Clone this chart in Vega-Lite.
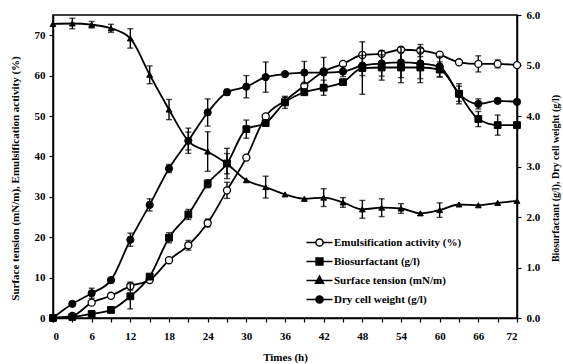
{
  "$schema": "https://vega.github.io/schema/vega-lite/v6.json",
  "autosize": {"type": "none"},
  "padding": {"left": 53, "top": 15, "right": 46, "bottom": 46},
  "width": 464,
  "height": 303,
  "background": "white",
  "config": {
    "view": {"stroke": "black", "strokeWidth": 1.5},
    "axis": {
      "domainColor": "black", "domainWidth": 1.5, "tickColor": "black", "tickWidth": 1.2, "tickSize": 4,
      "labelFont": "Liberation Serif", "labelFontWeight": "bold", "labelFontSize": 11, "labelColor": "black",
      "titleFont": "Liberation Serif", "titleFontWeight": "bold", "titleFontSize": 11, "titleColor": "black",
      "grid": false
    },
    "legend": {
      "orient": "none", "legendX": 261, "legendY": 222, "padding": 0, "title": null,
      "symbolSize": 64, "labelOffset": 9, "rowPadding": 5,
      "labelFont": "Liberation Serif", "labelFontWeight": "bold", "labelFontSize": 11, "labelColor": "black",
      "symbolStrokeWidth": 1.5, "symbolStrokeColor": "black"
    }
  },
  "data": {
    "values": [
      {"series": "Surface tension (mN/m)", "t": 0, "value": 72.8, "err": 0},
      {"series": "Surface tension (mN/m)", "t": 3, "value": 72.9, "err": 1.3},
      {"series": "Surface tension (mN/m)", "t": 6, "value": 72.6, "err": 0.8},
      {"series": "Surface tension (mN/m)", "t": 9, "value": 71.7, "err": 1.0},
      {"series": "Surface tension (mN/m)", "t": 12, "value": 69.2, "err": 2.4},
      {"series": "Surface tension (mN/m)", "t": 15, "value": 60.2, "err": 2.2},
      {"series": "Surface tension (mN/m)", "t": 18, "value": 51.6, "err": 2.5},
      {"series": "Surface tension (mN/m)", "t": 21, "value": 43.8, "err": 2.2},
      {"series": "Surface tension (mN/m)", "t": 24, "value": 41.2, "err": 4.9},
      {"series": "Surface tension (mN/m)", "t": 27, "value": 38.2, "err": 2.5},
      {"series": "Surface tension (mN/m)", "t": 30, "value": 34.1, "err": 0},
      {"series": "Surface tension (mN/m)", "t": 33, "value": 32.4, "err": 2.7},
      {"series": "Surface tension (mN/m)", "t": 36, "value": 30.6, "err": 0},
      {"series": "Surface tension (mN/m)", "t": 39, "value": 29.5, "err": 0},
      {"series": "Surface tension (mN/m)", "t": 42, "value": 29.8, "err": 2.2},
      {"series": "Surface tension (mN/m)", "t": 45, "value": 28.6, "err": 1.2},
      {"series": "Surface tension (mN/m)", "t": 48, "value": 26.9, "err": 2.2},
      {"series": "Surface tension (mN/m)", "t": 51, "value": 27.3, "err": 2.2},
      {"series": "Surface tension (mN/m)", "t": 54, "value": 27.1, "err": 1.2},
      {"series": "Surface tension (mN/m)", "t": 57, "value": 25.9, "err": 0},
      {"series": "Surface tension (mN/m)", "t": 60, "value": 26.7, "err": 1.8},
      {"series": "Surface tension (mN/m)", "t": 63, "value": 28.1, "err": 0},
      {"series": "Surface tension (mN/m)", "t": 66, "value": 27.9, "err": 0},
      {"series": "Surface tension (mN/m)", "t": 69, "value": 28.5, "err": 0},
      {"series": "Surface tension (mN/m)", "t": 72, "value": 29.0, "err": 0},

      {"series": "Emulsification activity (%)", "t": 0, "value": 0, "err": 0},
      {"series": "Emulsification activity (%)", "t": 3, "value": 0.5, "err": 0},
      {"series": "Emulsification activity (%)", "t": 6, "value": 3.8, "err": 0},
      {"series": "Emulsification activity (%)", "t": 9, "value": 5.5, "err": 0},
      {"series": "Emulsification activity (%)", "t": 12, "value": 7.9, "err": 1.0},
      {"series": "Emulsification activity (%)", "t": 15, "value": 9.4, "err": 0},
      {"series": "Emulsification activity (%)", "t": 18, "value": 14.3, "err": 0},
      {"series": "Emulsification activity (%)", "t": 21, "value": 18.0, "err": 1.2},
      {"series": "Emulsification activity (%)", "t": 24, "value": 23.5, "err": 1.0},
      {"series": "Emulsification activity (%)", "t": 27, "value": 31.6, "err": 2.0},
      {"series": "Emulsification activity (%)", "t": 30, "value": 39.7, "err": 0},
      {"series": "Emulsification activity (%)", "t": 33, "value": 49.9, "err": 0},
      {"series": "Emulsification activity (%)", "t": 36, "value": 53.8, "err": 0},
      {"series": "Emulsification activity (%)", "t": 39, "value": 57.5, "err": 0},
      {"series": "Emulsification activity (%)", "t": 42, "value": 61.0, "err": 0},
      {"series": "Emulsification activity (%)", "t": 45, "value": 62.9, "err": 0},
      {"series": "Emulsification activity (%)", "t": 48, "value": 65.1, "err": 0},
      {"series": "Emulsification activity (%)", "t": 51, "value": 65.4, "err": 0},
      {"series": "Emulsification activity (%)", "t": 54, "value": 66.4, "err": 0},
      {"series": "Emulsification activity (%)", "t": 57, "value": 66.2, "err": 1.5},
      {"series": "Emulsification activity (%)", "t": 60, "value": 65.2, "err": 0},
      {"series": "Emulsification activity (%)", "t": 63, "value": 63.3, "err": 0},
      {"series": "Emulsification activity (%)", "t": 66, "value": 62.9, "err": 2.0},
      {"series": "Emulsification activity (%)", "t": 69, "value": 62.9, "err": 1.0},
      {"series": "Emulsification activity (%)", "t": 72, "value": 62.6, "err": 0},

      {"series": "Dry cell weight (g/l)", "t": 0, "value": 0, "err": 0},
      {"series": "Dry cell weight (g/l)", "t": 3, "value": 0.28, "err": 0},
      {"series": "Dry cell weight (g/l)", "t": 6, "value": 0.49, "err": 0.1},
      {"series": "Dry cell weight (g/l)", "t": 9, "value": 0.75, "err": 0},
      {"series": "Dry cell weight (g/l)", "t": 12, "value": 1.55, "err": 0.13},
      {"series": "Dry cell weight (g/l)", "t": 15, "value": 2.24, "err": 0.12},
      {"series": "Dry cell weight (g/l)", "t": 18, "value": 2.96, "err": 0.08},
      {"series": "Dry cell weight (g/l)", "t": 21, "value": 3.51, "err": 0.25},
      {"series": "Dry cell weight (g/l)", "t": 24, "value": 4.07, "err": 0.27},
      {"series": "Dry cell weight (g/l)", "t": 27, "value": 4.47, "err": 0.06},
      {"series": "Dry cell weight (g/l)", "t": 30, "value": 4.58, "err": 0.22},
      {"series": "Dry cell weight (g/l)", "t": 33, "value": 4.77, "err": 0.3},
      {"series": "Dry cell weight (g/l)", "t": 36, "value": 4.83, "err": 0},
      {"series": "Dry cell weight (g/l)", "t": 39, "value": 4.86, "err": 0.22},
      {"series": "Dry cell weight (g/l)", "t": 42, "value": 4.86, "err": 0.3},
      {"series": "Dry cell weight (g/l)", "t": 45, "value": 4.88, "err": 0.1},
      {"series": "Dry cell weight (g/l)", "t": 48, "value": 5.0, "err": 0.2},
      {"series": "Dry cell weight (g/l)", "t": 51, "value": 5.04, "err": 0.25},
      {"series": "Dry cell weight (g/l)", "t": 54, "value": 5.06, "err": 0.3},
      {"series": "Dry cell weight (g/l)", "t": 57, "value": 5.04, "err": 0.3},
      {"series": "Dry cell weight (g/l)", "t": 60, "value": 4.98, "err": 0.2},
      {"series": "Dry cell weight (g/l)", "t": 63, "value": 4.44, "err": 0.15},
      {"series": "Dry cell weight (g/l)", "t": 66, "value": 4.24, "err": 0.1},
      {"series": "Dry cell weight (g/l)", "t": 69, "value": 4.3, "err": 0},
      {"series": "Dry cell weight (g/l)", "t": 72, "value": 4.28, "err": 0},

      {"series": "Biosurfactant (g/l)", "t": 0, "value": 0, "err": 0},
      {"series": "Biosurfactant (g/l)", "t": 3, "value": 0.02, "err": 0},
      {"series": "Biosurfactant (g/l)", "t": 6, "value": 0.08, "err": 0},
      {"series": "Biosurfactant (g/l)", "t": 9, "value": 0.16, "err": 0},
      {"series": "Biosurfactant (g/l)", "t": 12, "value": 0.43, "err": 0.25},
      {"series": "Biosurfactant (g/l)", "t": 15, "value": 0.82, "err": 0},
      {"series": "Biosurfactant (g/l)", "t": 18, "value": 1.59, "err": 0.1},
      {"series": "Biosurfactant (g/l)", "t": 21, "value": 2.05, "err": 0.1},
      {"series": "Biosurfactant (g/l)", "t": 24, "value": 2.66, "err": 0.08},
      {"series": "Biosurfactant (g/l)", "t": 27, "value": 3.06, "err": 0.3},
      {"series": "Biosurfactant (g/l)", "t": 30, "value": 3.74, "err": 0.18},
      {"series": "Biosurfactant (g/l)", "t": 33, "value": 3.86, "err": 0},
      {"series": "Biosurfactant (g/l)", "t": 36, "value": 4.27, "err": 0.12},
      {"series": "Biosurfactant (g/l)", "t": 39, "value": 4.47, "err": 0},
      {"series": "Biosurfactant (g/l)", "t": 42, "value": 4.56, "err": 0.15},
      {"series": "Biosurfactant (g/l)", "t": 45, "value": 4.67, "err": 0},
      {"series": "Biosurfactant (g/l)", "t": 48, "value": 4.95, "err": 0.52},
      {"series": "Biosurfactant (g/l)", "t": 51, "value": 4.96, "err": 0.25},
      {"series": "Biosurfactant (g/l)", "t": 54, "value": 4.96, "err": 0.3},
      {"series": "Biosurfactant (g/l)", "t": 57, "value": 4.96, "err": 0.3},
      {"series": "Biosurfactant (g/l)", "t": 60, "value": 4.92, "err": 0.15},
      {"series": "Biosurfactant (g/l)", "t": 63, "value": 4.44, "err": 0.2},
      {"series": "Biosurfactant (g/l)", "t": 66, "value": 3.94, "err": 0.15},
      {"series": "Biosurfactant (g/l)", "t": 69, "value": 3.82, "err": 0.2},
      {"series": "Biosurfactant (g/l)", "t": 72, "value": 3.82, "err": 0}
    ]
  },
  "encoding": {
    "x": {
      "field": "t", "type": "quantitative",
      "scale": {"domain": [0, 72], "nice": false},
      "axis": {
        "title": "Times (h)",
        "values": [0, 3, 6, 9, 12, 15, 18, 21, 24, 27, 30, 33, 36, 39, 42, 45, 48, 51, 54, 57, 60, 63, 66, 69, 72],
        "labelExpr": "datum.value % 6 === 0 ? datum.label : ''",
        "labelPadding": 8,
        "titleY": 39, "titleBaseline": "middle"
      }
    }
  },
  "layer": [
    {
      "transform": [{"filter": {"field": "series", "oneOf": ["Surface tension (mN/m)", "Emulsification activity (%)"]}}],
      "encoding": {
        "y": {
          "field": "value", "type": "quantitative",
          "scale": {"domain": [0, 75], "nice": false},
          "axis": {
            "orient": "left",
            "title": "Surface tension (mN/m), Emulsification activity (%)",
            "values": [0, 10, 20, 30, 40, 50, 60, 70],
            "labelPadding": 4,
            "titleX": -38, "titleY": 163, "titleAngle": 270, "titleAlign": "center", "titleBaseline": "middle"
          }
        }
      },
      "layer": [
        {
          "mark": {"type": "line", "color": "black", "strokeWidth": 1.8, "interpolate": "monotone"},
          "encoding": {"detail": {"field": "series"}}
        },
        {
          "transform": [{"filter": "datum.err > 0"}],
          "mark": {"type": "errorbar", "color": "black", "thickness": 1.4, "ticks": {"size": 6, "thickness": 1.4}},
          "encoding": {"yError": {"field": "err"}}
        },
        {
          "transform": [{"filter": {"field": "series", "equal": "Emulsification activity (%)"}}],
          "mark": {"type": "point", "shape": "circle", "filled": true, "fill": "white", "stroke": "black", "strokeWidth": 1.3, "size": 50, "opacity": 1}
        },
        {
          "transform": [{"filter": {"field": "series", "equal": "Surface tension (mN/m)"}}],
          "mark": {"type": "point", "shape": "triangle-up", "filled": true, "fill": "black", "stroke": "black", "strokeWidth": 1, "size": 34, "opacity": 1}
        },
        {
          "transform": [{"filter": "false"}],
          "mark": {"type": "point", "filled": true, "strokeWidth": 1.5, "opacity": 1},
          "encoding": {
            "shape": {
              "field": "series", "type": "nominal",
              "scale": {
                "domain": ["Emulsification activity (%)", "Biosurfactant (g/l)", "Surface tension (mN/m)", "Dry cell weight (g/l)"],
                "range": [
                  "M-3.25,0H-0.9M0.9,0H3.25M0.9,0A0.9,0.9,0,1,1,-0.9,0A0.9,0.9,0,1,1,0.9,0Z",
                  "M-3.25,0H3.25M-0.85,-0.85H0.85V0.85H-0.85Z",
                  "M-3.25,0H3.25M0,-1.1L1,0.7H-1Z",
                  "M-3.25,0H3.25M0.9,0A0.9,0.9,0,1,1,-0.9,0A0.9,0.9,0,1,1,0.9,0Z"
                ]
              }
            },
            "fill": {
              "field": "series", "type": "nominal",
              "scale": {"domain": ["Emulsification activity (%)", "Biosurfactant (g/l)", "Surface tension (mN/m)", "Dry cell weight (g/l)"], "range": ["white", "black", "black", "black"]}
            },
            "stroke": {
              "field": "series", "type": "nominal",
              "scale": {"domain": ["Emulsification activity (%)", "Biosurfactant (g/l)", "Surface tension (mN/m)", "Dry cell weight (g/l)"], "range": ["black", "black", "black", "black"]}
            }
          }
        }
      ]
    },
    {
      "transform": [{"filter": {"field": "series", "oneOf": ["Biosurfactant (g/l)", "Dry cell weight (g/l)"]}}],
      "encoding": {
        "y": {
          "field": "value", "type": "quantitative",
          "scale": {"domain": [0, 6], "nice": false},
          "axis": {
            "orient": "right",
            "title": "Biosurfactant (g/l), Dry cell weight (g/l)",
            "values": [0, 1, 2, 3, 4, 5, 6],
            "format": ".1f",
            "labelPadding": 5,
            "titleFontSize": 10,
            "titleX": 38, "titleY": 163, "titleAngle": 270, "titleAlign": "center", "titleBaseline": "middle"
          }
        }
      },
      "layer": [
        {
          "mark": {"type": "line", "color": "black", "strokeWidth": 1.8, "interpolate": "monotone"},
          "encoding": {"detail": {"field": "series"}}
        },
        {
          "transform": [{"filter": "datum.err > 0"}],
          "mark": {"type": "errorbar", "color": "black", "thickness": 1.4, "ticks": {"size": 6, "thickness": 1.4}},
          "encoding": {"yError": {"field": "err"}}
        },
        {
          "transform": [{"filter": {"field": "series", "equal": "Biosurfactant (g/l)"}}],
          "mark": {"type": "point", "shape": "square", "filled": true, "fill": "black", "stroke": "black", "strokeWidth": 1, "size": 46, "opacity": 1}
        },
        {
          "transform": [{"filter": {"field": "series", "equal": "Dry cell weight (g/l)"}}],
          "mark": {"type": "point", "shape": "circle", "filled": true, "fill": "black", "stroke": "black", "strokeWidth": 1, "size": 52, "opacity": 1}
        }
      ]
    }
  ],
  "resolve": {"scale": {"y": "independent"}}
}
